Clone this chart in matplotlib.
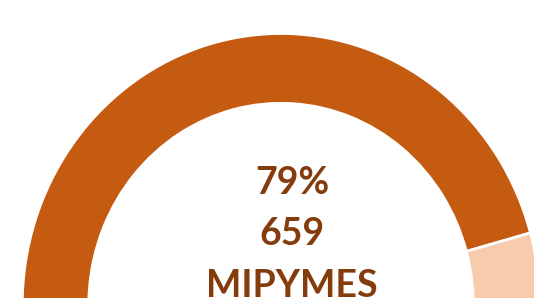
import matplotlib
matplotlib.use("Agg")
import matplotlib.pyplot as plt

# data
shares = [79, 21]          # % of MIPYMES
count = 659
label = "MIPYMES"
colors = ["#C55A11", "#F8CBAD"]
text_color = "#843C0C"

# canvas in pixels, x squeezed a bit (the ring is slightly taller than wide)
W, H = 534, 298
kx = 0.953
cx, cy = 281 / kx, H - 305
r_out, ring = 271.5, 69.8

fig = plt.figure(figsize=(W / 100, H / 100), dpi=100)
ax = fig.add_axes([0, 0, 1, 1])

ax.pie(shares, colors=colors, startangle=15.4, counterclock=True,
       radius=r_out, center=(cx, cy),
       wedgeprops=dict(width=ring, edgecolor="white", linewidth=2))

ax.set_aspect("auto")
ax.set_xlim(0, W / kx)
ax.set_ylim(0, H)
ax.axis("off")

tx = 292 / kx
font = dict(family=["Lato", "DejaVu Sans"], fontweight="bold", fontsize=27,
            color=text_color, ha="center", va="baseline")
ax.text(tx, H - 194, f"{shares[0]}%", **font)
ax.text(tx, H - 245, str(count), **font)
ax.text(tx, H - 297, label, **font)

fig.savefig("out.png", dpi=100)
